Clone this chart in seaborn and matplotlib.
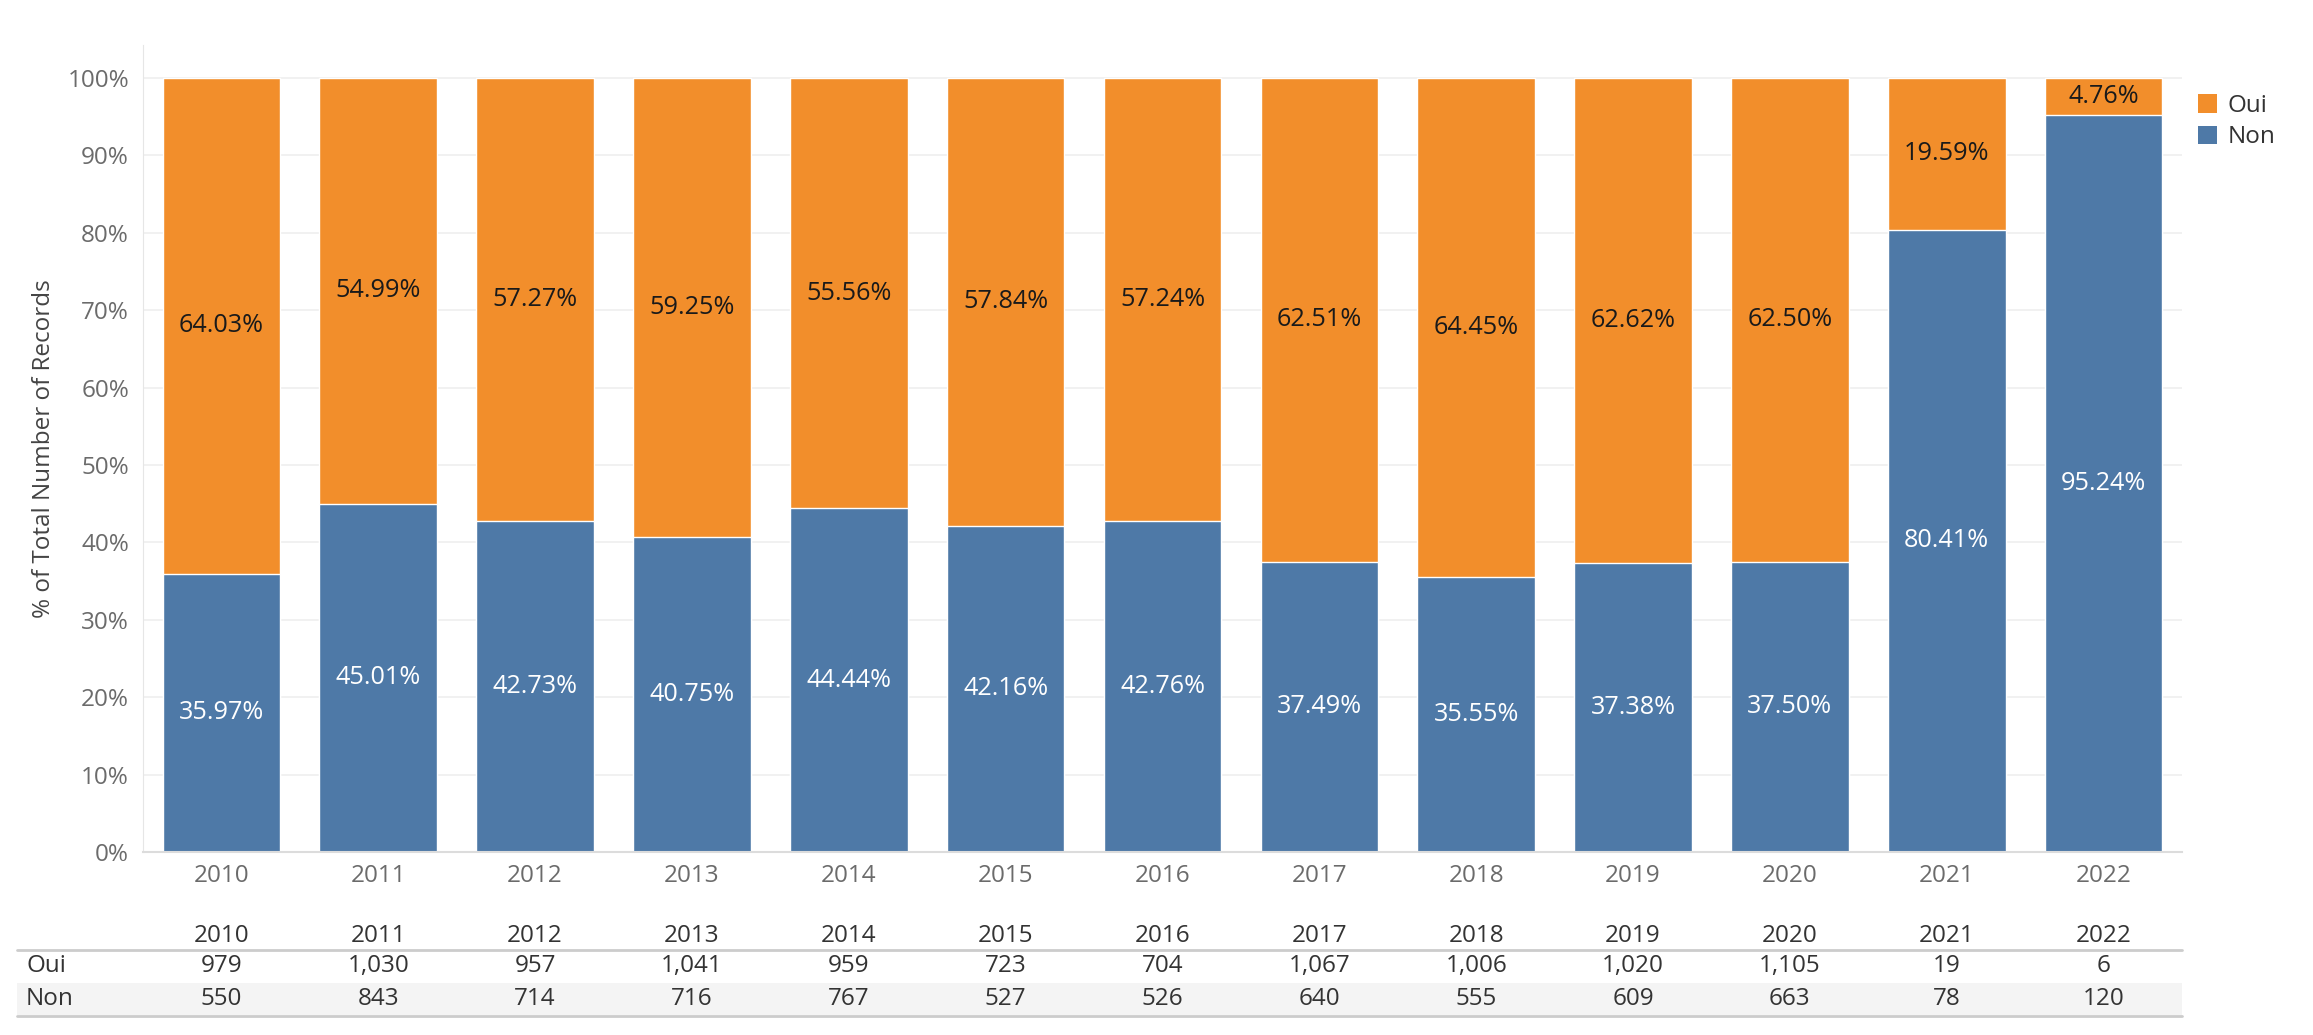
import numpy as np
import pandas as pd
import seaborn as sns
import matplotlib.pyplot as plt
from matplotlib.transforms import blended_transform_factory
from matplotlib.patches import Rectangle, Patch
from matplotlib.lines import Line2D

# data
years = ['2010', '2011', '2012', '2013', '2014', '2015', '2016',
         '2017', '2018', '2019', '2020', '2021', '2022']
oui = [979, 1030, 957, 1041, 959, 723, 704, 1067, 1006, 1020, 1105, 19, 6]
non = [550, 843, 714, 716, 767, 527, 526, 640, 555, 609, 663, 78, 120]

orange = '#F28E2B'
blue = '#4E79A7'
W, H = 2313, 1035
fs = 17.5

df = pd.DataFrame({'year': years, 'oui': oui, 'non': non})
df['total'] = df['oui'] + df['non']
df['pct_oui'] = df['oui'] / df['total']
df['pct_non'] = df['non'] / df['total']
df['stack'] = df['pct_non'] + df['pct_oui']

sns.set_style('white')
plt.rcParams['font.family'] = ['Open Sans', 'DejaVu Sans']

fig = plt.figure(figsize=(W / 100, H / 100), dpi=100)
ax = fig.add_axes([143 / W, 1 - 852 / H, (2182 - 143) / W, (852 - 45) / H])

sns.barplot(data=df, x='year', y='stack', order=years, color=orange,
            saturation=1, width=0.75, ax=ax, zorder=2)
sns.barplot(data=df, x='year', y='pct_non', order=years, color=blue,
            saturation=1, width=0.75, ax=ax, zorder=2)

for i, r in df.iterrows():
    ax.text(i, r['pct_non'] / 2, f"{r['pct_non'] * 100:.2f}%", ha='center',
            va='center', color='white', fontsize=fs + 0.7, zorder=3)
    ax.text(i, r['pct_non'] + r['pct_oui'] / 2, f"{r['pct_oui'] * 100:.2f}%",
            ha='center', va='center', color='#1a1a1a', fontsize=fs + 0.7, zorder=3)

ax.set_xlim(-0.5, len(years) - 0.5)
ax.set_ylim(0, (852 - 45) / 774)
ax.set_yticks(np.arange(0, 1.01, 0.1))
ax.set_yticklabels([f'{int(round(t * 100))}%' for t in np.arange(0, 1.01, 0.1)])
ax.yaxis.grid(True, color='#efefef', linewidth=1.2, zorder=0)
ax.set_axisbelow(True)
ax.set_xlabel('')
ax.set_ylabel('% of Total Number of Records', fontsize=fs, color='#444444', va='center')
ax.yaxis.set_label_coords((44 - 143) / (2182 - 143), 0.5)

ax.tick_params(axis='y', length=0, labelsize=fs, labelcolor='#6b6b6b', pad=10)
ax.tick_params(axis='x', which='major', length=0, labelsize=fs, labelcolor='#6b6b6b', pad=9)
ax.set_xticks(np.arange(-0.5, len(years), 1), minor=True)
ax.tick_params(axis='x', which='minor', length=5, color='#e3e3e3', width=1)

for s in ['top', 'right']:
    ax.spines[s].set_visible(False)
ax.spines['left'].set_color('#e6e6e6')
ax.spines['bottom'].set_color('#dcdcdc')
ax.spines['bottom'].set_linewidth(1.5)

# legend
handles = [Patch(facecolor=orange, edgecolor='none', label='Oui'),
           Patch(facecolor=blue, edgecolor='none', label='Non')]
fig.legend(handles=handles, loc='upper left', bbox_to_anchor=(2198 / W, 1 - 94 / H),
           frameon=False, fontsize=fs, handlelength=0.8, handleheight=0.8,
           handletextpad=0.4, labelspacing=0.3, borderpad=0, borderaxespad=0,
           labelcolor='#333333')

# table under the chart
tr = blended_transform_factory(ax.transData, fig.transFigure)
fx = lambda px: px / W
fy = lambda py: 1 - py / H

fig.patches.append(Rectangle((fx(17), fy(1015)), fx(2182) - fx(17), (1015 - 983) / H,
                             transform=fig.transFigure, facecolor='#f4f4f4',
                             edgecolor='none', zorder=-1))
fig.add_artist(Line2D([fx(17), fx(2182)], [fy(950), fy(950)], color='#cccccc', lw=2))
fig.add_artist(Line2D([fx(17), fx(2182)], [fy(1016), fy(1016)], color='#cccccc', lw=2))

for i, y in enumerate(years):
    ax.text(i, fy(936), y, transform=tr, ha='center', va='center',
            fontsize=fs, color='#333333', clip_on=False)
    ax.text(i, fy(966), f'{oui[i]:,}', transform=tr, ha='center', va='center',
            fontsize=fs, color='#333333', clip_on=False)
    ax.text(i, fy(999), f'{non[i]:,}', transform=tr, ha='center', va='center',
            fontsize=fs, color='#333333', clip_on=False)

fig.text(fx(26), fy(966), 'Oui', ha='left', va='center', fontsize=fs, color='#333333')
fig.text(fx(26), fy(999), 'Non', ha='left', va='center', fontsize=fs, color='#333333')

fig.savefig('out.png', dpi=100)
